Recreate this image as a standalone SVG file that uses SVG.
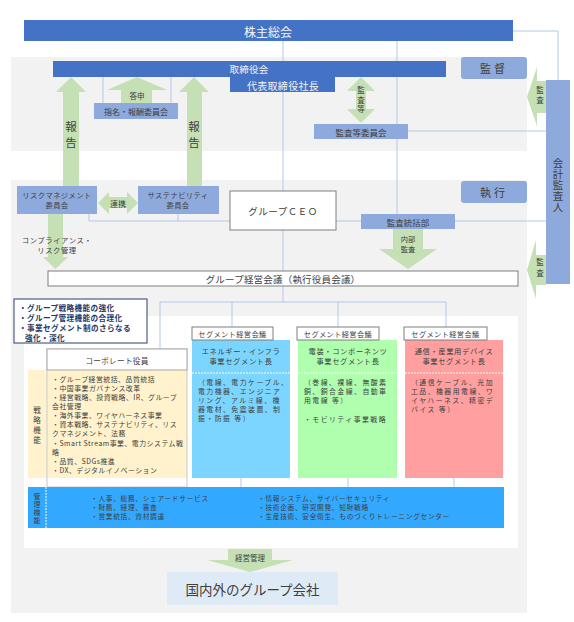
<svg xmlns="http://www.w3.org/2000/svg" width="574" height="622" viewBox="0 0 574 622">
<style>
text{font-family:"Noto Sans CJK JP","Noto Sans",sans-serif;fill:#404040;}
.c{text-anchor:middle;dominant-baseline:central;}
.m{dominant-baseline:central;}
.v{writing-mode:tb;text-anchor:middle;}
.dk{fill:#4472C4}
.md{fill:#8EA9DB}
.ar{fill:#C5E0B4}
.ln{fill:none;stroke:#B4C7E7;stroke-width:1}
.wtxt{fill:#F2F2F2}
.box{fill:#fff;stroke:#7F7F7F;stroke-width:1}
.seg{font-size:6.9px;letter-spacing:1.45px;dominant-baseline:central}
.cp{font-size:6.9px;letter-spacing:0.5px;dominant-baseline:central}
.mg{font-size:6.7px;letter-spacing:0.7px;dominant-baseline:central}
.bd{font-size:7.6px;letter-spacing:0.4px;font-weight:bold;fill:#1F3864;dominant-baseline:central}
</style>
<rect width="574" height="622" fill="#fff"/>
<g id="panels">
<rect x="11" y="57" width="516" height="94" fill="#F2F2F2"/>
<rect x="11" y="180" width="516" height="433" fill="#F2F2F2"/>
<rect x="24" y="316" width="494" height="232" fill="#fff"/>
</g>
<g id="connectors">
<path class="ln" d="M283,41V302"/>
<path class="ln" d="M397,41V214"/>
<path class="ln" d="M513,31H558V80"/>
<path class="ln" d="M103,77V103M171,77V103"/>
<path class="ln" d="M408,131H546"/>
<path class="ln" d="M89,214V221H230M178,214V221"/>
<path class="ln" d="M336,221H361M455,221H546"/>
<path class="ln" d="M160,349V302H446V327M232,302V327M338,302V327"/>
<path class="ln" d="M241,478V487M348,478V487M454,478V487"/>
</g>
<g id="arrows">
<polygon class="ar" points="137,77 167,90 152,90 152,103 121,103 121,90 107,90"/>
<polygon class="ar" points="71,77 86,92 79,92 79,186 63,186 63,92 56,92"/>
<polygon class="ar" points="194,77 209,92 202,92 202,186 187,186 187,92 179,92"/>
<polygon class="ar" points="361,77 375,91 366,91 366,109 375,109 361,123 347,109 356,109 356,91 347,91"/>
<polygon class="ar" points="527,97 537,67 537,81 546,81 546,113 537,113 537,126"/>
<polygon class="ar" points="527,270 536,240 536,255 546,255 546,285 536,285 536,299"/>
<polygon class="ar" points="98,203 109,192 109,197 127,197 127,192 138,203 127,214 127,208 109,208 109,214"/>
<polygon class="ar" points="48,214 63,214 63,257 68,257 55.5,269 43,257 48,257"/>
<polygon class="ar" points="393,229 423,229 423,249 437,249 408,269 379,249 393,249"/>
<polygon class="ar" points="228,549 272,549 272,560 293,560 250,572 207,560 228,560"/>
<text class="c" x="137" y="95" font-size="7.5">答申</text>
<text class="v" x="71" y="137" font-size="11.5" letter-spacing="4.5">報告</text>
<text class="v" x="194" y="137" font-size="11.5" letter-spacing="4.5">報告</text>
<text class="v" x="361" y="101" font-size="7.5" letter-spacing="2">監査等</text>
<text class="v" x="540" y="96" font-size="7.5" letter-spacing="2.5">監査</text>
<text class="v" x="540" y="269" font-size="7.5" letter-spacing="3.5">監査</text>
<text class="c" x="118" y="203" font-size="8">連携</text>
<text class="c" font-size="7.3" letter-spacing="0.6"><tspan x="57" y="240">コンプライアンス・</tspan><tspan x="57" y="250">リスク管理</tspan></text>
<text class="c" font-size="7.3"><tspan x="408" y="239">内部</tspan><tspan x="408" y="249">監査</tspan></text>
<text class="c" x="250" y="557" font-size="7.5">経営管理</text>
</g>
<g id="shareholders">
<rect class="dk" x="24" y="20" width="489" height="21"/>
<text class="c wtxt" x="268" y="31" font-size="12">株主総会</text>
</g>
<g id="board">
<rect class="dk" x="53" y="61" width="393" height="16"/>
<rect class="dk" x="230" y="77" width="105" height="15"/>
<text class="c wtxt" x="249" y="69" font-size="9.5" letter-spacing="0.3">取締役会</text>
<text class="c wtxt" x="283" y="85" font-size="10" letter-spacing="0.3">代表取締役社長</text>
</g>
<g id="nomination">
<rect class="md" x="94" y="103" width="84" height="16"/>
<text class="c" x="136" y="111" font-size="8">指名・報酬委員会</text>
</g>
<g id="audit-committee">
<rect class="md" x="314" y="124" width="94" height="15"/>
<text class="c" x="361" y="131.5" font-size="8.5">監査等委員会</text>
</g>
<g id="supervision">
<rect class="md" x="461" y="57" width="66" height="22" rx="3"/>
<text class="c" x="494" y="68" font-size="11" letter-spacing="3">監督</text>
</g>
<g id="execution">
<rect class="md" x="461" y="181" width="66" height="22" rx="3"/>
<text class="c" x="494" y="192" font-size="11" letter-spacing="3">執行</text>
</g>
<g id="auditor">
<rect class="md" x="546" y="80" width="24" height="204"/>
<text class="v" x="558" y="185" font-size="10.5" letter-spacing="0.5">会計監査人</text>
</g>
<g id="risk">
<rect class="md" x="17" y="186" width="80" height="28"/>
<text class="c" font-size="7.3" letter-spacing="0.4"><tspan x="57" y="195">リスクマネジメント</tspan><tspan x="57" y="205">委員会</tspan></text>
</g>
<g id="sustainability">
<rect class="md" x="138" y="186" width="81" height="28"/>
<text class="c" font-size="7.3" letter-spacing="0.4"><tspan x="178" y="195">サステナビリティ</tspan><tspan x="178" y="205">委員会</tspan></text>
</g>
<g id="ceo">
<rect class="box" x="230" y="191" width="106" height="39"/>
<text class="c" x="283" y="211" font-size="9.5" letter-spacing="0.5">グループＣＥＯ</text>
</g>
<g id="internal-audit">
<rect class="md" x="361" y="214" width="94" height="15"/>
<text class="c" x="408" y="221.5" font-size="8.5">監査統括部</text>
</g>
<g id="exec-meeting">
<rect class="box" x="48" y="271" width="470" height="15"/>
<text class="c" x="283" y="278.5" font-size="9.5" letter-spacing="0.2">グループ経営会議（執行役員会議）</text>
</g>
<g id="policy">
<rect x="14" y="299" width="133" height="44" fill="#fff" stroke="#2F3F6F" stroke-width="1"/>
<text class="bd"><tspan x="19" y="307">・グループ戦略機能の強化</tspan><tspan x="19" y="317">・グループ管理機能の合理化</tspan><tspan x="19" y="327">・事業セグメント制のさらなる</tspan><tspan x="25" y="337">強化・深化</tspan></text>
</g>
<g id="corporate">
<rect x="28" y="370" width="159" height="108" fill="#FFF2CC"/>
<path d="M47,370V478" stroke="#fff" stroke-width="1" stroke-dasharray="2,1"/>
<rect x="47" y="349" width="140" height="138" fill="none" stroke="#C8C8C8" stroke-width="1"/>
<rect x="47" y="349" width="140" height="21" fill="#fff" stroke="#A6A6A6" stroke-width="1"/>
<text class="c" x="117" y="360" font-size="7.6" letter-spacing="0.3">コーポレート役員</text>
<text class="v" x="37" y="426" font-size="7.5" letter-spacing="2.5">戦略機能</text>
<text class="cp"><tspan x="52" y="379">・グループ経営統括、品質統括</tspan><tspan x="52" y="388">・中国事業ガバナンス改革</tspan><tspan x="52" y="397">・経営戦略、投資戦略、IR、グループ</tspan><tspan x="52" y="406">会社管理</tspan><tspan x="52" y="415">・海外事業、ワイヤハーネス事業</tspan><tspan x="52" y="424">・資本戦略、サステナビリティ、リス</tspan><tspan x="52" y="433">クマネジメント、法務</tspan><tspan x="52" y="443">・Smart Stream事業、電力システム戦</tspan><tspan x="52" y="452">略</tspan><tspan x="52" y="461">・品質、SDGs推進</tspan><tspan x="52" y="470">・DX、デジタルイノベーション</tspan></text>
</g>
<g id="segment-energy">
<rect x="192" y="340" width="98" height="138" fill="#7CD5FF"/>
<path d="M192,373H290" stroke="#fff" stroke-width="1" stroke-dasharray="2,1"/>
<rect class="box" x="192" y="327" width="81" height="13"/>
<text class="c" x="232.5" y="333.5" font-size="7.2" letter-spacing="0.4">セグメント経営会議</text>
<text class="c" font-size="7.3" letter-spacing="0.6"><tspan x="241" y="351">エネルギー・インフラ</tspan><tspan x="241" y="361">事業セグメント長</tspan></text>
<text class="seg"><tspan x="198" y="382">（電線、電力ケーブル、</tspan><tspan x="198" y="391">電力機器、エンジニア</tspan><tspan x="198" y="400">リング、アルミ線、機</tspan><tspan x="198" y="409">器電材、免震装置、制</tspan><tspan x="198" y="418">振・防振 等）</tspan></text>
</g>
<g id="segment-auto">
<rect x="298" y="340" width="99" height="138" fill="#AFFFAF"/>
<path d="M298,373H397" stroke="#fff" stroke-width="1" stroke-dasharray="2,1"/>
<rect class="box" x="297" y="327" width="82" height="13"/>
<text class="c" x="338" y="333.5" font-size="7.2" letter-spacing="0.4">セグメント経営会議</text>
<text class="c" font-size="7.3" letter-spacing="0.6"><tspan x="348" y="351">電装・コンポーネンツ</tspan><tspan x="348" y="361">事業セグメント長</tspan></text>
<text class="seg"><tspan x="304" y="382">（巻線、裸線、無酸素</tspan><tspan x="304" y="391">銅、銅合金線、自動車</tspan><tspan x="304" y="400">用電線 等）</tspan><tspan x="304" y="419">・モビリティ事業戦略</tspan></text>
</g>
<g id="segment-comm">
<rect x="405" y="340" width="98" height="138" fill="#FF9F9F"/>
<path d="M405,373H503" stroke="#fff" stroke-width="1" stroke-dasharray="2,1"/>
<rect class="box" x="404" y="327" width="83" height="13"/>
<text class="c" x="445.5" y="333.5" font-size="7.2" letter-spacing="0.4">セグメント経営会議</text>
<text class="c" font-size="7.3" letter-spacing="0.6"><tspan x="454" y="351">通信・産業用デバイス</tspan><tspan x="454" y="361">事業セグメント長</tspan></text>
<text class="seg"><tspan x="411" y="382">（通信ケーブル、光加</tspan><tspan x="411" y="391">工品、機器用電線、ワ</tspan><tspan x="411" y="400">イヤハーネス、精密デ</tspan><tspan x="411" y="409">バイス 等）</tspan></text>
</g>
<g id="management">
<rect x="28" y="487" width="476" height="41" fill="#33A8FF"/>
<path d="M46,487V528" stroke="#fff" stroke-width="1" stroke-dasharray="2,1"/>
<text class="v" x="37" y="509" font-size="7" letter-spacing="1">管理機能</text>
<text class="mg"><tspan x="91" y="498">・人事、総務、シェアードサービス</tspan><tspan x="91" y="507">・財務、経理、審査</tspan><tspan x="91" y="516">・営業統括、資材調達</tspan></text>
<text class="mg"><tspan x="258" y="498">・情報システム、サイバーセキュリティ</tspan><tspan x="258" y="507">・技術企画、研究開発、知財戦略</tspan><tspan x="258" y="516">・生産技術、安全衛生、ものづくりトレーニングセンター</tspan></text>
</g>
<g id="group-companies">
<rect x="167" y="572" width="171" height="33" fill="#DEEBF7"/>
<text class="c" x="252.5" y="589" font-size="13.5">国内外のグループ会社</text>
</g>
</svg>
